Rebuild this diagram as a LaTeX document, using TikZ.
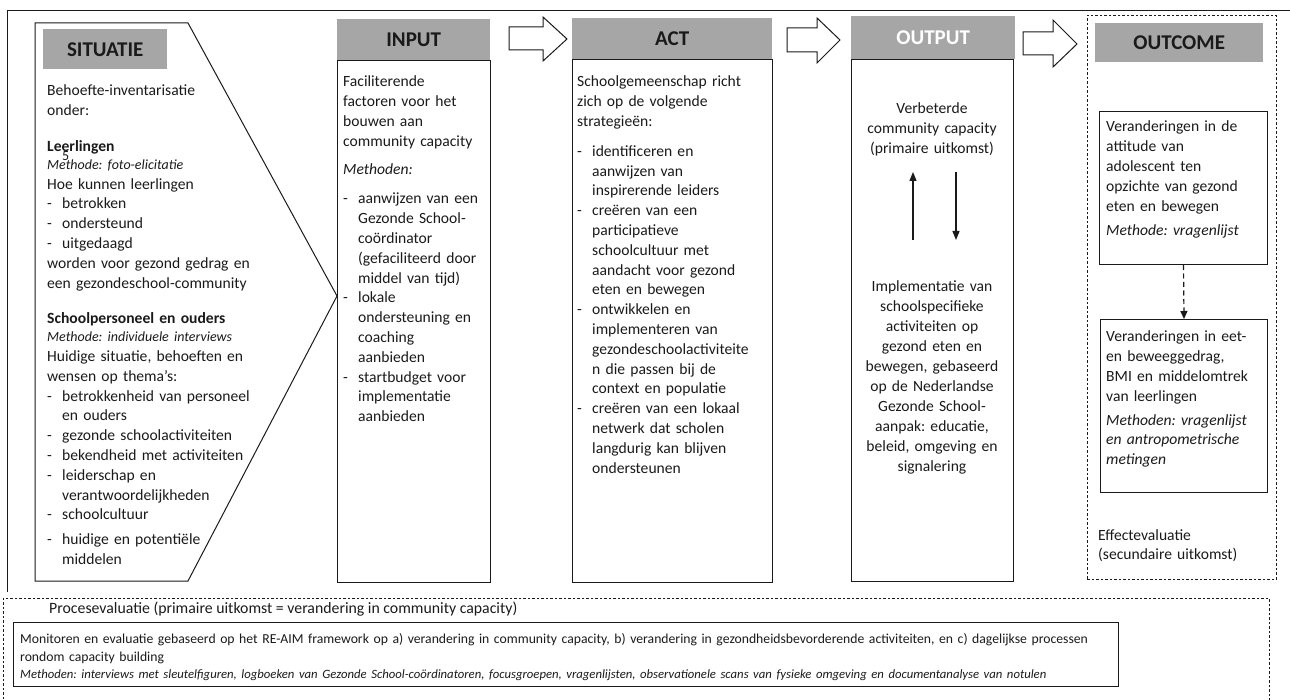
\documentclass[tikz,border=0pt]{standalone}
\usepackage{fontspec}
\setmainfont{Carlito}
\usetikzlibrary{arrows.meta}
\definecolor{hgrey}{HTML}{A6A6A6}
\definecolor{ink}{HTML}{1A1A1A}
\newcommand\dsh{\makebox[15pt][l]{-}}
\newcommand\hind{\hspace*{15pt}}
\frenchspacing
\begin{document}
\frenchspacing
\begin{tikzpicture}[x=1pt,y=-1pt,
  boxline/.style={draw=ink, line width=1pt},
  dotbox/.style={draw=ink, line width=0.8pt, dash pattern=on 2.5pt off 2pt},
  hdr/.style={fill=hgrey, draw=none, text=ink, inner sep=0pt, anchor=north west,
    font=\fontsize{21}{24}\selectfont\bfseries},
  body/.style={text=ink, inner sep=0pt, anchor=base west, align=left, text width=#1,
    font=\fontsize{15.6}{19.8}\selectfont},
  cbody/.style={text=ink, inner sep=0pt, anchor=base, align=center, text width=#1,
    font=\fontsize{15.6}{20}\selectfont},
  frame/.style={boxline, inner sep=0pt, anchor=north west},
  blockarrow/.style={draw=ink, line width=1pt, fill=white},
  thinarrow/.style={draw=ink, line width=1.3pt, -{Triangle[width=7pt,length=9pt]}},
]
\useasboundingbox (0,0) rectangle (1290,700);

% outer frame (top and left edges visible)
\draw[boxline] (7,592) -- (7,11) -- (1290,11);

% ---------------- SITUATIE ----------------
\draw[boxline] (35,23) -- (188,23) -- (337,296) -- (188,581) -- (35,581) -- cycle;
\node[hdr, minimum width=124pt, minimum height=40pt] (sith) at (43,29) {SITUATIE};
\node[body=290pt] (sitt) at (47,96) {Behoefte-inventarisatie\\
onder:\\[16pt]
\textbf{Leerlingen}\\[-2pt]
{\fontsize{14}{19.8}\selectfont\itshape Methode: foto-elicitatie}\\
Hoe kunnen leerlingen\\
\dsh betrokken\\
\dsh ondersteund\\
\dsh uitgedaagd\\
worden voor gezond gedrag en\\
een gezondeschool-community\\[16pt]
\textbf{Schoolpersoneel en ouders}\\[-2pt]
{\fontsize{14}{19.8}\selectfont\itshape Methode: individuele interviews}\\
Huidige situatie, behoeften en\\
wensen op thema’s:\\
\dsh betrokkenheid van personeel\\
\hind en ouders\\
\dsh gezonde schoolactiviteiten\\
\dsh bekendheid met activiteiten\\
\dsh leiderschap en\\
\hind verantwoordelijkheden\\
\dsh schoolcultuur\\[5pt]
\dsh huidige en potentiële\\
\hind middelen};
\node[text=ink, inner sep=0pt, anchor=base west, font=\fontsize{14}{16}\selectfont] (five) at (62,161) {5};

% ---------------- INPUT ----------------
\node[hdr, minimum width=153pt, minimum height=41pt] (inh) at (337,19) {INPUT};
\node[frame, minimum width=153pt, minimum height=522pt] (inb) at (337,60) {};
\node[body=145pt] (intx) at (343,87) {Faciliterende\\
factoren voor het\\
bouwen aan\\
community capacity\\[8pt]
\textit{Methoden:}\\[10pt]
\dsh aanwijzen van een\\
\hind Gezonde School-\\
\hind coördinator\\
\hind (gefaciliteerd door\\
\hind middel van tijd)\\
\dsh lokale\\
\hind ondersteuning en\\
\hind coaching\\
\hind aanbieden\\
\dsh startbudget voor\\
\hind implementatie\\
\hind aanbieden};

% block arrow 1
\draw[blockarrow] (509,27) -- (543,27) -- (543,17) -- (567,39) -- (543,61) -- (543,50) -- (509,50) -- cycle;

% ---------------- ACT ----------------
\node[hdr, minimum width=200pt, minimum height=41pt] (acth) at (572,18) {ACT};
\node[frame, minimum width=200pt, minimum height=523pt] (actb) at (572,59) {};
\node[body=195pt] (acttx) at (577,87) {Schoolgemeenschap richt\\
zich op de volgende\\
strategieën:\\[10pt]
\dsh identificeren en\\
\hind aanwijzen van\\
\hind inspirerende leiders\\
\dsh creëren van een\\
\hind participatieve\\
\hind schoolcultuur met\\
\hind aandacht voor gezond\\
\hind eten en bewegen\\
\dsh ontwikkelen en\\
\hind implementeren van\\
\hind gezondeschoolactiviteite\\
\hind n die passen bij de\\
\hind context en populatie\\
\dsh creëren van een lokaal\\
\hind netwerk dat scholen\\
\hind langdurig kan blijven\\
\hind ondersteunen};

% block arrow 2
\draw[blockarrow] (787,28) -- (817,28) -- (817,18) -- (840,40) -- (817,63) -- (817,52) -- (787,52) -- cycle;

% ---------------- OUTPUT ----------------
\node[hdr, minimum width=164pt, minimum height=43pt, text=white] (outh) at (851,16) {OUTPUT};
\node[frame, minimum width=162pt, minimum height=522pt] (outb) at (851,59) {};
\node[cbody=160pt] (outt1) at (932,114) {Verbeterde\\community capacity\\(primaire uitkomst)};
\node[cbody=160pt] (outt2) at (932,292) {Implementatie van\\schoolspecifieke\\activiteiten op\\gezond eten en\\bewegen, gebaseerd\\op de Nederlandse\\Gezonde School-\\aanpak: educatie,\\beleid, omgeving en\\signalering};
\coordinate (upA) at (913,240);
\coordinate (upB) at (913,172);
\coordinate (dnA) at (956,172);
\coordinate (dnB) at (956,240);
\draw[thinarrow] (upA) -- (upB);
\draw[thinarrow] (dnA) -- (dnB);

% block arrow 3
\draw[blockarrow] (1023,32) -- (1053,32) -- (1053,20) -- (1077,44) -- (1053,67) -- (1053,55) -- (1023,55) -- cycle;

% ---------------- OUTCOME ----------------
\node[dotbox, inner sep=0pt, anchor=north west, minimum width=189pt, minimum height=564pt] (outcb) at (1087,15) {};
\node[hdr, minimum width=168pt, minimum height=39pt] (outch) at (1095,23) {OUTCOME};
\node[frame, minimum width=168pt, minimum height=153pt] (ob1) at (1099,111) {};
\node[body=160pt] (ob1t) at (1106,132) {Veranderingen in de\\
attitude van\\
adolescent ten\\
opzichte van gezond\\
eten en bewegen\\[5pt]
\textit{Methode: vragenlijst}};
\node[frame, minimum width=167pt, minimum height=173pt] (ob2) at (1100,319) {};
\node[body=160pt] (ob2t) at (1106,342) {Veranderingen in eet-\\
en beweeggedrag,\\
BMI en middelomtrek\\
van leerlingen\\[4pt]
\textit{Methoden: vragenlijst}\\
\textit{en antropometrische}\\
\textit{metingen}};
\draw[draw=ink, line width=1.2pt, dash pattern=on 5pt off 3.5pt, -{Triangle[width=7pt,length=8pt]}] (ob1.south) -- (ob2.north);
\node[body=175pt] (efft) at (1098,540) {Effectevaluatie\\(secundaire uitkomst)};

% ---------------- PROCESEVALUATIE ----------------
\node[dotbox, inner sep=0pt, anchor=north west, minimum width=1266pt, minimum height=110pt] (procb) at (3,598) {};
\node[text=ink, inner sep=0pt, anchor=base west, font=\fontsize{15.8}{17}\selectfont] (proct) at (49,613) {Procesevaluatie (primaire uitkomst = verandering in community capacity)};
\node[frame, minimum width=1105pt, minimum height=64pt] (monb) at (13,622) {};
\node[text=ink, inner sep=0pt, anchor=base west, align=left, text width=1095pt,
  font=\fontsize{13.7}{18}\selectfont] (mont) at (20,643) {Monitoren en evaluatie gebaseerd op het RE-AIM framework op a) verandering in community capacity, b) verandering in gezondheidsbevorderende activiteiten, en c) dagelijkse processen\\
rondom capacity building\\[-1pt]
{\fontsize{12.7}{15}\selectfont\itshape Methoden: interviews met sleutelfiguren, logboeken van Gezonde School-coördinatoren, focusgroepen, vragenlijsten, observationele scans van fysieke omgeving en documentanalyse van notulen}};
\end{tikzpicture}
\end{document}
